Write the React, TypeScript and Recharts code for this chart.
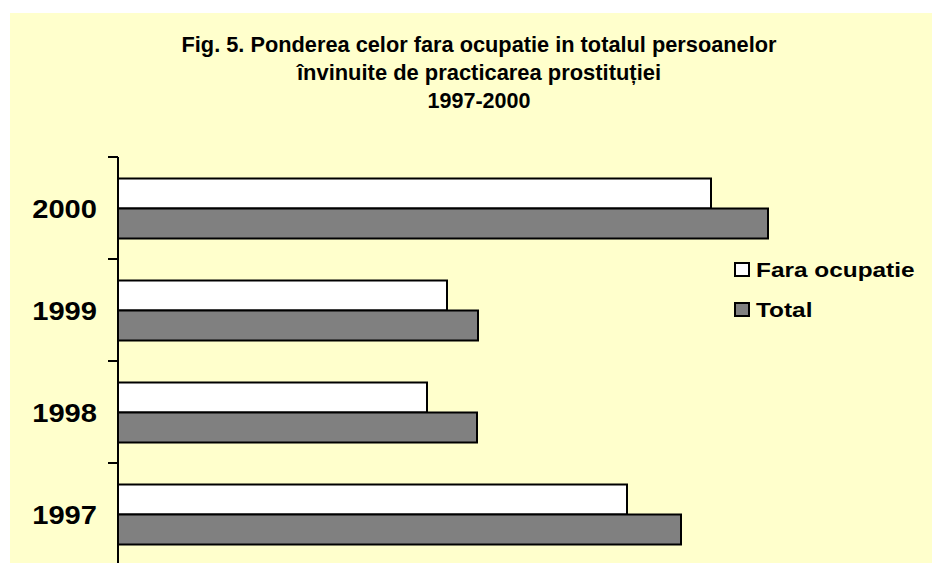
import React from 'react';
import { BarChart, Bar, XAxis, YAxis } from 'recharts';

const categories = ['2000', '1999', '1998', '1997'];
const faraOcupatie = [593, 329, 309, 509];
const total = [650, 360, 359, 563];
const seriesNames = ['Fara ocupatie', 'Total'];
const titleLines = [
  'Fig. 5. Ponderea celor fara ocupatie in totalul persoanelor',
  'învinuite de practicarea prostituției',
  '1997-2000',
];

const data = categories.map((c, i) => ({ year: c, fara: faraOcupatie[i], total: total[i] }));

const FONT = '"Liberation Sans", Arial, sans-serif';
const BG = '#FFFFCC';
const GREY = '#808080';
const FILLS = ['#FFFFFF', GREY];

const YTick = (props: any) => {
  const { x, y, payload } = props;
  const half = payload && typeof payload.offset === 'number' ? payload.offset : 51;
  return (
    <g>
      <line x1={x + 11} x2={x + 21} y1={y - half} y2={y - half} stroke="#000" strokeWidth={2} />
      <text
        transform={`translate(${x},${y + 10}) scale(1.12,1)`}
        textAnchor="end"
        fontFamily={FONT}
        fontWeight="bold"
        fontSize={26}
        fill="#000"
      >
        {payload.value}
      </text>
    </g>
  );
};

const LegendBox = () => (
  <svg width={200} height={70} style={{ position: 'absolute', left: 732, top: 257 }}>
    {seriesNames.map((n, i) => (
      <g key={n}>
        <rect x={3} y={6 + i * 40} width={14} height={13} fill={FILLS[i]} stroke="#000" strokeWidth={2} />
        <text
          transform={`translate(24,${20 + i * 40}) scale(1.22,1)`}
          fontFamily={FONT}
          fontWeight="bold"
          fontSize={20}
          fill="#000"
        >
          {n}
        </text>
      </g>
    ))}
  </svg>
);

export default function App() {
  const titleWidths = [595, 364, 103];
  return (
    <div style={{ position: 'fixed', left: 0, top: 0, width: 932, height: 563, overflow: 'hidden', background: '#fff' }}>
      <div style={{ position: 'absolute', left: 10, top: 13, right: 0, bottom: 0, background: BG }} />
      <svg width={932} height={130} style={{ position: 'absolute', left: 0, top: 0 }}>
        {titleLines.map((t, i) => (
          <text
            key={i}
            x={479}
            y={52 + i * 28}
            textAnchor="middle"
            fontFamily={FONT}
            fontWeight="bold"
            fontSize={22.5}
            fill="#000"
            textLength={titleWidths[i]}
            lengthAdjust="spacingAndGlyphs"
          >
            {t}
          </text>
        ))}
      </svg>
      <div style={{ position: 'absolute', left: 0, top: 0 }}>
        <BarChart
          width={932}
          height={565}
          data={data}
          layout="vertical"
          margin={{ top: 157, right: 14, left: 0, bottom: 0 }}
          barCategoryGap="21%"
          barGap={0}
        >
          <XAxis type="number" domain={[0, 800]} hide />
          <YAxis
            type="category"
            dataKey="year"
            width={118}
            axisLine={{ stroke: '#000', strokeWidth: 2 }}
            tickLine={false}
            tickSize={10}
            tickMargin={11}
            tick={<YTick />}
            interval={0}
          />
          <Bar dataKey="fara" name={seriesNames[0]} fill={FILLS[0]} stroke="#000" strokeWidth={2} isAnimationActive={false} />
          <Bar dataKey="total" name={seriesNames[1]} fill={FILLS[1]} stroke="#000" strokeWidth={2} isAnimationActive={false} />
        </BarChart>
      </div>
      <LegendBox />
    </div>
  );
}
